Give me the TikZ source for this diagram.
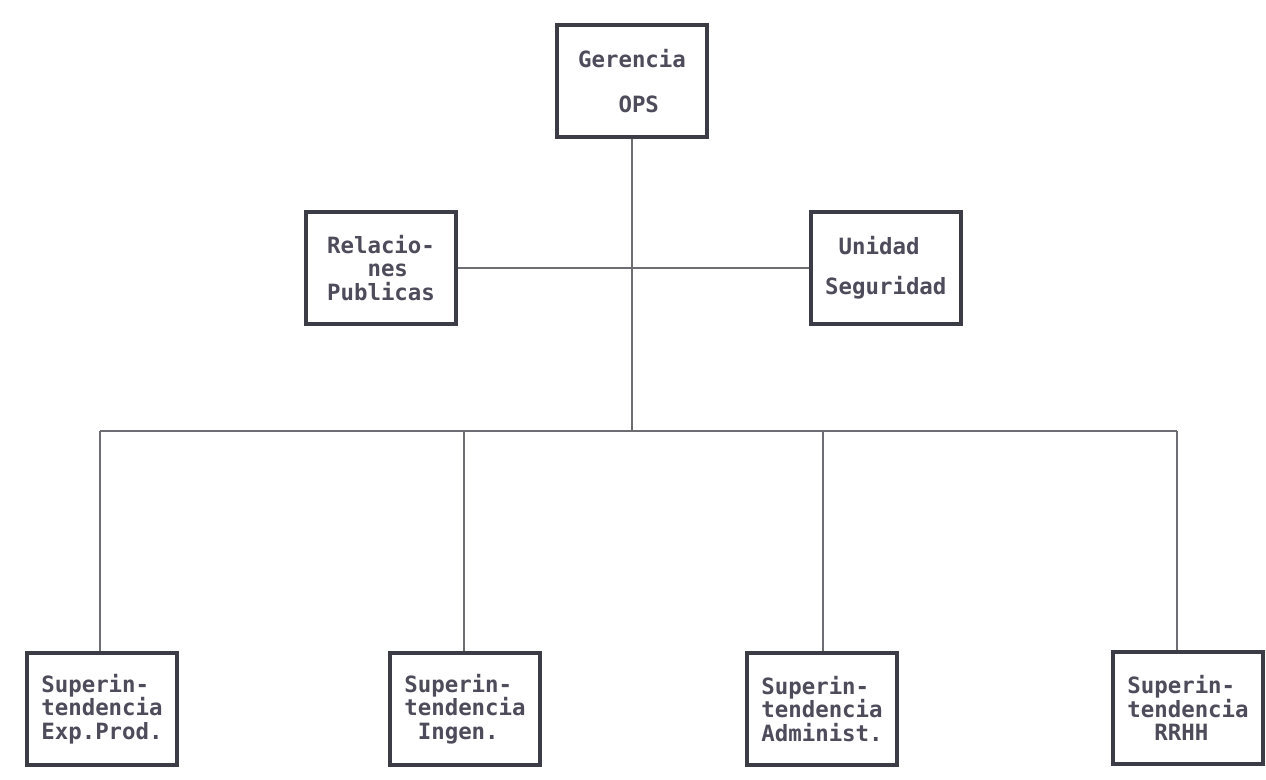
\documentclass[tikz,border=0pt]{standalone}
\usepackage{fontspec}
\setmonofont{DejaVu Sans Mono}
\usepackage{tikz}
\usetikzlibrary{calc,positioning}
\definecolor{boxgray}{HTML}{3C3C46}
\definecolor{linegray}{HTML}{6E6E72}
\definecolor{textgray}{HTML}{4E4C5A}
\newcommand{\gap}[1]{\hphantom{#1}}
\tikzstyle{unit}=[
  draw=boxgray,
  fill=white,
  font={\ttfamily\bfseries\fontsize{12.75}{13.5}\selectfont},
  text=textgray,
  inner sep=0pt,
  minimum height=2.24cm,
  minimum width=3cm,
  rectangle,
  align=left,
  line width=2.2pt,
]
\tikzstyle{link}=[
  draw=linegray,
  line width=1pt,
]
\tikzset{
  x=0.02cm,
  y=-0.02cm,
}
\begin{document}
\begin{tikzpicture}
  \useasboundingbox [fill=white] (0,0) rectangle (1266,779);
  %%
  \node (gerencia) [unit] at (632,81) {Gerencia\\[12pt]\gap{XXX}OPS};
  \node (relaciones) [unit] at (381,268) {Relacio-\\\gap{XXX}nes\\Publicas};
  \node (unidad) [unit, right=7.02cm of relaciones] {\gap{X}Unidad\\[9.2pt]Seguridad};
  %%
  \node (expprod) [unit] at (102,709) {Superin-\\tendencia\\Exp.Prod.};
  \node (ingen) [unit] at (465,709) {Superin-\\tendencia\\\gap{X}Ingen.};
  \node (administ) [unit] at (822,709) {Superin-\\tendencia\\Administ.};
  \node (rrhh) [unit] at (1188,708) {Superin-\\tendencia\\\gap{XX}RRHH};
  %%
  \coordinate (J) at (gerencia.south |- 0,431);
  \coordinate (A) at (100,431);
  \coordinate (B) at (464,431);
  \coordinate (C) at (823,431);
  \coordinate (D) at (1177,431);
  %%
  \draw [link] (gerencia.south) -- (J);
  \draw [link] (relaciones.east) -- (unidad.west);
  \draw [link] (A) -- (D);
  \draw [link] (A) -- (A |- expprod.north);
  \draw [link] (B) -- (B |- ingen.north);
  \draw [link] (C) -- (C |- administ.north);
  \draw [link] (D) -- (D |- rrhh.north);
\end{tikzpicture}
\end{document}
